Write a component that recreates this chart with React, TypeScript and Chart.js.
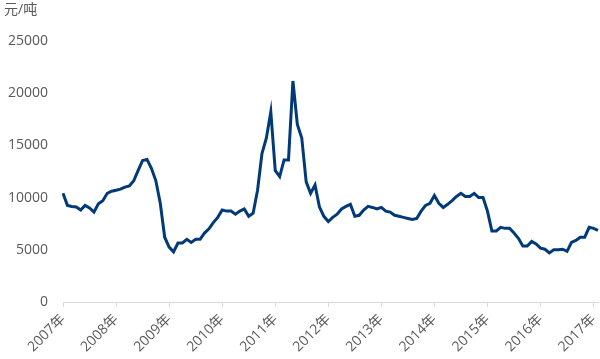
import React, { useEffect, useRef } from "react";
import { Chart, registerables } from "chart.js";

Chart.register(...registerables);

const years = ["2007", "2008", "2009", "2010", "2011", "2012", "2013", "2014", "2015", "2016", "2017"];

const prices2007 = [10400, 9250, 9150, 9100, 8800, 9250, 9000, 8600, 9400, 9700, 10400, 10600];
const prices2008 = [10700, 10800, 11000, 11100, 11600, 12600, 13550, 13650, 12800, 11600, 9450, 6200];
const prices2009 = [5250, 4800, 5650, 5650, 6000, 5700, 6000, 6000, 6600, 7000, 7600, 8100];
const prices2010 = [8800, 8700, 8700, 8400, 8700, 8900, 8200, 8500, 10700, 14200, 15700, 18200];
const prices2011 = [12600, 12000, 13600, 13600, 21150, 17000, 15700, 11500, 10400, 11200, 9100, 8200];
const prices2012 = [7700, 8100, 8400, 8900, 9150, 9350, 8200, 8300, 8800, 9150, 9050, 8900];
const prices2013 = [9050, 8700, 8600, 8300, 8200, 8100, 8000, 7900, 8000, 8700, 9250, 9450];
const prices2014 = [10200, 9450, 9050, 9350, 9700, 10100, 10400, 10100, 10100, 10400, 10000, 10000];
const prices2015 = [8700, 6800, 6800, 7150, 7050, 7050, 6600, 6100, 5350, 5350, 5800, 5550];
const prices2016 = [5150, 5050, 4700, 5000, 5000, 5050, 4850, 5700, 5900, 6200, 6200, 7150];
const prices2017 = [7050, 6850];

const values = [
  ...prices2007, ...prices2008, ...prices2009, ...prices2010, ...prices2011, ...prices2012,
  ...prices2013, ...prices2014, ...prices2015, ...prices2016, ...prices2017,
];

const labels: string[] = values.map((_, i) => `${years[Math.floor(i / 12)]}年${(i % 12) + 1}月`);

const yTicks = [0, 5000, 10000, 15000, 20000, 25000];
const unitLabel = "元/吨";

const FONT = "'Open Sans', 'Noto Sans CJK SC', sans-serif";

export default function App() {
  const ref = useRef<HTMLCanvasElement | null>(null);

  useEffect(() => {
    if (!ref.current) return;
    const chart = new Chart(ref.current, {
      type: "line",
      data: {
        labels,
        datasets: [
          {
            data: values,
            borderColor: "#003A78",
            borderWidth: 3,
            pointRadius: 0,
            tension: 0,
            fill: false,
          },
        ],
      },
      options: {
        animation: false,
        responsive: false,
        maintainAspectRatio: false,
        layout: { padding: { left: 4, right: 2, top: 0, bottom: 0 } },
        plugins: {
          legend: { display: false },
          tooltip: { enabled: false },
          title: {
            display: true,
            text: unitLabel,
            align: "start",
            color: "#595959",
            font: { family: FONT, size: 14, weight: "normal" },
            padding: { top: 2, bottom: 22 },
          },
        },
        scales: {
          x: {
            type: "category",
            offset: false,
            afterFit: (axis: any) => {
              axis.paddingLeft = 0;
              axis.paddingRight = 0;
              axis.height = 57;
            },
            grid: {
              drawOnChartArea: false,
              drawTicks: true,
              tickLength: 5,
              color: "#d9d9d9",
            },
            border: { display: true, color: "#d9d9d9", width: 1 },
            ticks: {
              autoSkip: false,
              maxRotation: 45,
              minRotation: 45,
              color: "#595959",
              font: { family: FONT, size: 14 },
              padding: 4,
              callback: (_v: any, i: number) => (i % 12 === 0 ? `${years[i / 12]}年` : null),
            },
          },
          y: {
            min: 0,
            max: 25000,
            afterBuildTicks: (axis: any) => {
              axis.ticks = yTicks.map((v) => ({ value: v }));
            },
            afterFit: (axis: any) => {
              axis.width = 59;
            },
            grid: { display: false, drawTicks: false },
            border: { display: false },
            ticks: {
              color: "#595959",
              font: { family: FONT, size: 14 },
              padding: 15,
              callback: (v: any) => String(v),
            },
          },
        },
      },
    });
    return () => chart.destroy();
  }, []);

  return (
    <div style={{ position: "fixed", left: 0, top: 0, width: 600, height: 359, background: "#fff" }}>
      <canvas ref={ref} width={600} height={359} style={{ display: "block" }} />
    </div>
  );
}
